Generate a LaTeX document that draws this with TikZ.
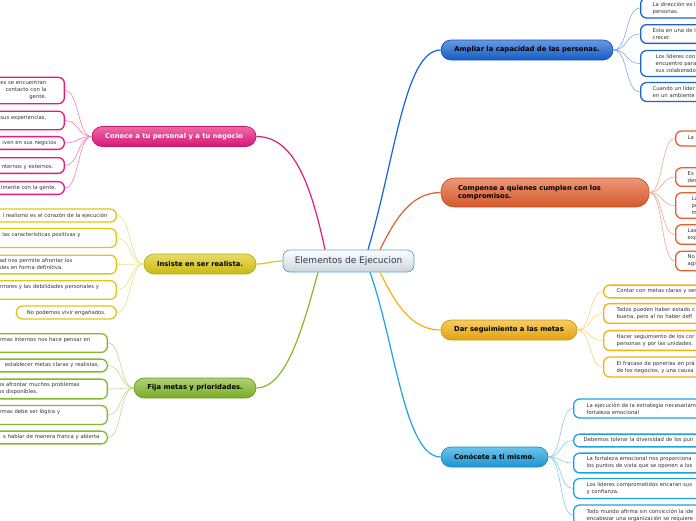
\documentclass[tikz,border=0pt]{standalone}
\usepackage{fontspec}
\setmainfont{DejaVu Sans}
\definecolor{cAmp}{HTML}{1763D4}
\definecolor{cComp}{HTML}{E5602F}
\definecolor{cDar}{HTML}{F3B112}
\definecolor{cCnt}{HTML}{1FA2E2}
\definecolor{cCnc}{HTML}{E8197C}
\definecolor{cIns}{HTML}{DCC814}
\definecolor{cFij}{HTML}{84BA2A}
\definecolor{cCtr}{HTML}{5AA6DE}
\definecolor{cCtrB}{HTML}{CBD4DD}
\definecolor{cCtrT}{HTML}{2B3A4C}

\begin{document}
\begin{tikzpicture}[x=1pt,y=-1pt,
  branch/.style={draw=#1!85!black,line width=0.7pt,rounded corners=10pt,top color=#1!65!white,bottom color=#1!92!black,font=\bfseries\fontsize{6.8}{8.5}\selectfont,minimum height=20pt,inner xsep=0pt},
  leaf/.style={draw=#1,line width=1.3pt,fill=white,rounded corners=6pt,inner ysep=3.8pt,text=black!80,font=\fontsize{5.3}{7}\selectfont},
  rleaf/.style={leaf=#1,anchor=west,text width=150pt,align=left,inner xsep=13pt},
  lleaf/.style={leaf=#1,anchor=east,text width=150pt,align=right,inner xsep=8pt},
  link/.style={line width=1.2pt,#1},
  twig/.style={line width=0.6pt,#1!55!white}]
\useasboundingbox (0,0) rectangle (696,520);
\clip (0,0) rectangle (696,520);
\fill[white] (0,0) rectangle (696,520);

\node[draw=cCtr,line width=0.8pt,rounded corners=7pt,top color=white,bottom color=cCtrB,text=cCtrT,minimum width=131pt,minimum height=22pt,font=\fontsize{9}{10}\selectfont] (ctr) at (348.5,261) {Elementos de Ejecucion};

\node[branch=cAmp,minimum width=172pt] (amp) at (527,50) {Ampliar la capacidad de las personas.};
\node[branch=cComp,minimum height=29pt,rounded corners=13pt,text width=174pt,align=left,inner xsep=17pt] (comp) at (545,192.5) {Compense a quienes cumplen con los\\compromisos.};
\node[branch=cDar,minimum width=136pt] (dar) at (509,330) {Dar seguimiento a las metas};
\node[branch=cCnt,minimum width=107pt] (cnt) at (494.5,457) {Conócete a ti mismo.};
\node[branch=cCnc,minimum width=164pt,text=white] (cnc) at (174,136.5) {Conoce a tu personal y a tu negocio};
\node[branch=cIns,minimum width=112pt] (ins) at (200,264) {Insiste en ser realista.};
\node[branch=cFij,minimum width=122pt] (fij) at (195,388) {Fija metas y prioridades.};

\node[rleaf=cAmp,inner xsep=12pt] (amp1) at (640,8) {La dirección es l\\personas.};
\node[rleaf=cAmp,inner xsep=12pt] (amp2) at (640,34) {Esta en una de l\\crecer.};
\node[rleaf=cAmp,inner xsep=15pt] (amp3) at (640,63.5) {Los líderes con\\encuentro para\\sus colaborado};
\node[rleaf=cAmp,inner xsep=12pt] (amp4) at (640,92) {Cuando un líder\\en un ambiente};

\node[rleaf=cComp,inner xsep=12pt,minimum height=15pt] (comp1) at (675,138.5) {La p};
\node[rleaf=cComp,inner xsep=12pt] (comp2) at (675,177) {Es\\des};
\node[rleaf=cComp,inner xsep=16pt] (comp3) at (675,205.5) {La\\pr\\m};
\node[rleaf=cComp,inner xsep=12pt] (comp4) at (675,234.5) {Las\\exp};
\node[rleaf=cComp,inner xsep=12pt] (comp5) at (675,261) {No\\agr};

\node[rleaf=cDar] (dar1) at (603,291.5) {Contar con metas claras y sen};
\node[rleaf=cDar] (dar2) at (603,313.5) {Todos pueden haber estado c\\buena, pero al no haber defi};
\node[rleaf=cDar] (dar3) at (603,340.5) {Hacer seguimiento de los cor\\personas y por las unidades.};
\node[rleaf=cDar] (dar4) at (603,367) {El fracaso de ponerlas en prá\\de los negocios, y una causa};

\node[rleaf=cCnt] (cnt1) at (573,408.5) {La ejecución de la estrategia necesariame\\fortaleza emocional};
\node[rleaf=cCnt,inner xsep=10pt] (cnt2) at (573,440.5) {Debemos tolerar la diversidad de los pun};
\node[rleaf=cCnt] (cnt3) at (573,463) {La fortaleza emocional nos proporciona\\los puntos de vista que se oponen a los};
\node[rleaf=cCnt] (cnt4) at (573,488.5) {Los líderes comprometidos encaran sus\\y confianza.};
\node[rleaf=cCnt] (cnt5) at (573,515) {Todo mundo afirma sin convicción la ide\\encabezar una organización se requiere};

\node[lleaf=cCnc,inner xsep=18pt] (cnc1) at (65,90.5) {es se encuentran\\contacto con la\\gente.};
\node[lleaf=cCnc,inner xsep=18pt] (cnc2) at (65,120.5) {sus experiencias,\\\mbox{}};
\node[lleaf=cCnc] (cnc3) at (65,143) {iven en sus negicios};
\node[lleaf=cCnc,inner xsep=11pt] (cnc4) at (65,165.5) {\mbox{}\\nternos y externos.};
\node[lleaf=cCnc] (cnc5) at (65,188) {lmente con la gente.};

\node[lleaf=cIns,inner xsep=9pt] (ins1) at (117,215.5) {l realismo es el corazón de la ejecución};
\node[lleaf=cIns,align=left,text width=110pt] (ins2) at (117,238) {r las características positivas y\\\mbox{}};
\node[lleaf=cIns,align=left,text width=110pt] (ins3) at (117,264.5) {lad nos permite afrontar los\\oles en forma definitiva.};
\node[lleaf=cIns,align=left,text width=110pt] (ins4) at (117,290) {errores y las debilidades personales y\\\mbox{}};
\node[leaf=cIns,anchor=east,minimum width=100pt] (ins5) at (117,312.5) {No podemos vivir engañados.};

\node[lleaf=cFij,align=left,text width=101pt] (fij1) at (108,343) {emas internos nos hace pensar en\\\mbox{}};
\node[lleaf=cFij] (fij2) at (108,365.5) {establecer metas claras y realistas.};
\node[lleaf=cFij,align=left,text width=101pt] (fij3) at (108,389) {os afrontar muchos problemas\\os disponibles.};
\node[lleaf=cFij,align=left,text width=101pt] (fij4) at (108,415) {emas debe ser lógica y\\\mbox{}};
\node[lleaf=cFij] (fij5) at (108,437.5) {s hablar de manera franca y abierta};

\coordinate (ctrA) at ([xshift=19.5pt]ctr.north);
\coordinate (ctrB) at ([xshift=31.5pt]ctr.north);
\coordinate (ctrC) at ([xshift=31.5pt]ctr.south);
\coordinate (ctrD) at ([xshift=21.5pt]ctr.south);
\coordinate (ctrE) at ([xshift=-23.5pt]ctr.north);
\coordinate (ctrF) at ([xshift=-30.5pt]ctr.south);

\draw[link=cAmp] (ctrA) .. controls +(27,-90) and +(-36,0) .. (amp.west);
\draw[link=cComp] (ctrB) .. controls +(15,-30) and +(-30,0) .. (comp.west);
\draw[link=cDar] (ctrC) .. controls +(15,30) and +(-30,0) .. (dar.west);
\draw[link=cCnt] (ctrD) .. controls +(25,70) and +(-36,0) .. (cnt.west);
\draw[link=cCnc] (ctrE) .. controls +(-15,-70) and +(36,0) .. (cnc.east);
\draw[link=cIns] (ctr.west) .. controls +(-10,0) and +(10,0) .. (ins.east);
\draw[link=cFij] (ctrF) .. controls +(-15,55) and +(30,0) .. (fij.east);

\foreach \i in {1,...,4} \draw[twig=cAmp] (amp.east) .. controls +(15,0) and +(-15,0) .. (amp\i.west);
\foreach \i in {1,...,5} \draw[twig=cComp] (comp.east) .. controls +(14,0) and +(-14,0) .. (comp\i.west);
\foreach \i in {1,...,4} \draw[twig=cDar] (dar.east) .. controls +(14,0) and +(-14,0) .. (dar\i.west);
\foreach \i in {1,...,5} \draw[twig=cCnt] (cnt.east) .. controls +(14,0) and +(-14,0) .. (cnt\i.west);
\foreach \i in {1,...,5} \draw[twig=cCnc] (cnc.west) .. controls +(-14,0) and +(14,0) .. (cnc\i.east);
\foreach \i in {1,...,5} \draw[twig=cIns] (ins.west) .. controls +(-14,0) and +(14,0) .. (ins\i.east);
\foreach \i in {1,...,5} \draw[twig=cFij] (fij.west) .. controls +(-14,0) and +(14,0) .. (fij\i.east);
\end{tikzpicture}
\end{document}
